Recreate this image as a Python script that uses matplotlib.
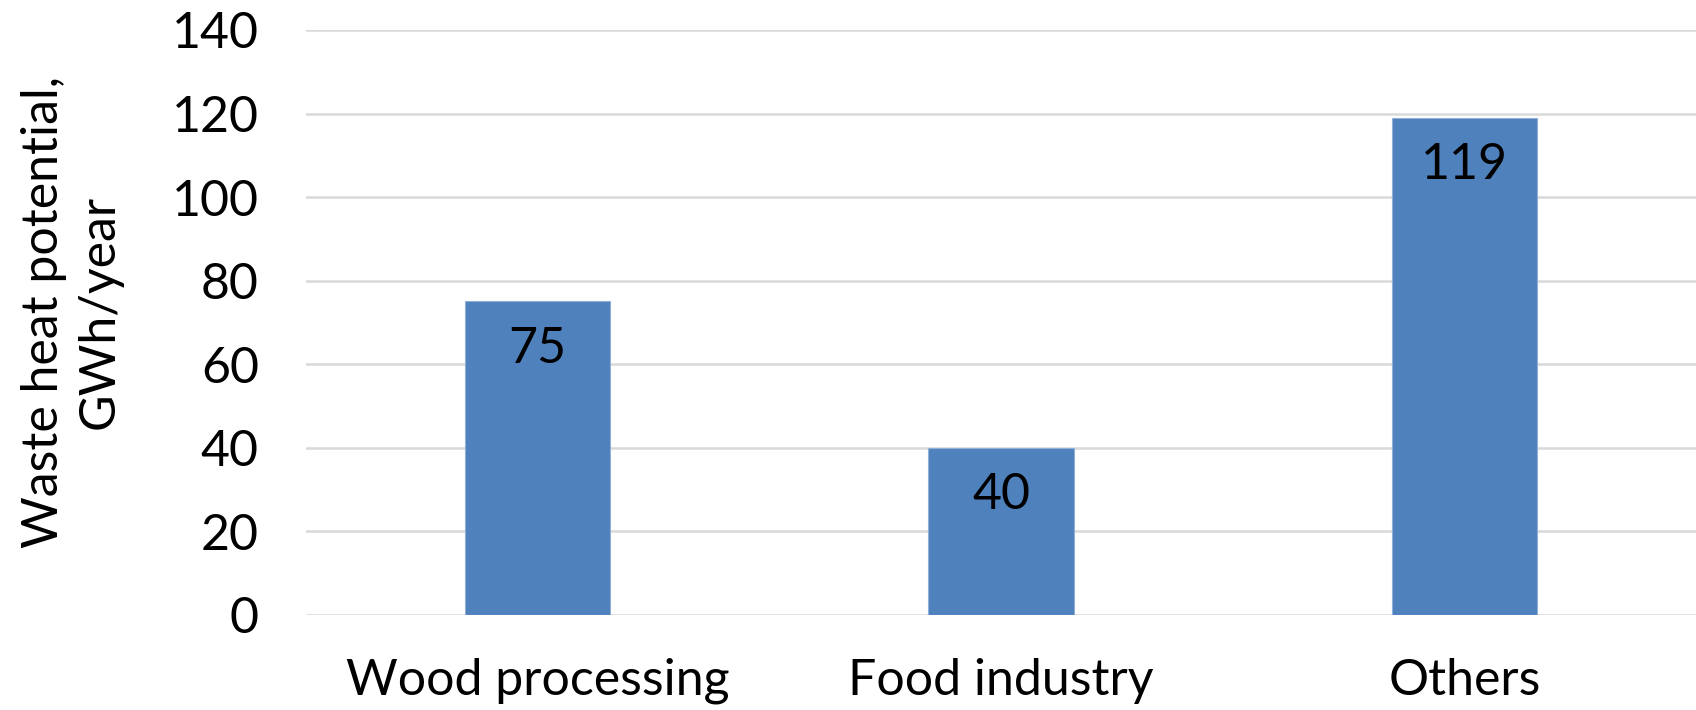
import matplotlib
matplotlib.use("Agg")
import matplotlib.pyplot as plt

categories = ["Wood processing", "Food industry", "Others"]
values = [75, 40, 119]
yticks = [0, 20, 40, 60, 80, 100, 120, 140]

plt.rcParams['font.family'] = ['Lato', 'DejaVu Sans']

W, H = 1696, 710
fig = plt.figure(figsize=(W / 100, H / 100), dpi=100)
left, right = 306 / W, 1696 / W
bottom, top = 1 - 614.7 / H, 1 - 30 / H
ax = fig.add_axes([left, bottom, right - left, top - bottom])

x = range(len(categories))
bars = ax.bar(x, values, width=0.313, color="#4f81bd", edgecolor="#8fb0d8",
              linewidth=0.8, zorder=3)

ax.set_xlim(-0.5, len(categories) - 0.5)
ax.set_ylim(0, 140)
ax.set_yticks(yticks)
ax.set_xticks(list(x))
ax.set_xticklabels(categories)
ax.grid(axis='y', color="#d9d9d9", linewidth=1.8, zorder=0)
ax.set_axisbelow(True)
for s in ax.spines.values():
    s.set_visible(False)
ax.tick_params(axis='both', length=0, labelsize=36, colors='black')
ax.tick_params(axis='y', pad=34)
ax.tick_params(axis='x', pad=31)

for b, v in zip(bars, values):
    ax.annotate(str(v), xy=(b.get_x() + b.get_width() / 2, v),
                xytext=(0, -34), textcoords='offset points',
                ha='center', va='center', fontsize=36, color='black')

fig.text(72 / W, 1 - 312 / H, "Waste heat potential,\nGWh/year", rotation=90,
         ha='center', va='center', fontsize=36, linespacing=1.25, multialignment='center')

fig.savefig("out.png", dpi=100)
